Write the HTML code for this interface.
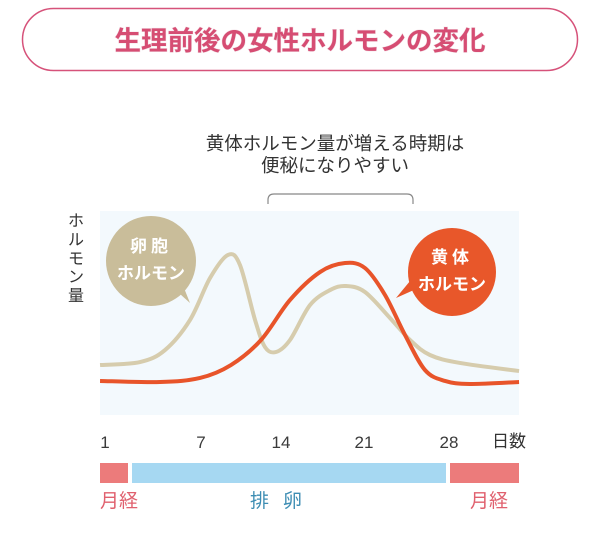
<!DOCTYPE html>
<html><head><meta charset="utf-8">
<style>
body{margin:0;background:#fff;width:600px;height:544px;overflow:hidden;font-family:"Liberation Sans","Noto Sans CJK JP",sans-serif}
svg text{font-family:"Liberation Sans","Noto Sans CJK JP",sans-serif}
</style></head>
<body>
<svg id="chart" width="600" height="544" viewBox="0 0 600 544">
  <rect x="22.5" y="8.5" width="555" height="62" rx="31" fill="#fff" stroke="#d6527a" stroke-width="1.5"/>
  <text x="300" y="50" text-anchor="middle" font-size="26.5" font-weight="bold" fill="#d64d73" style="paint-order:stroke" stroke="#f3e3e8" stroke-width="1">生理前後の女性ホルモンの変化</text>
  <text x="335" y="150" text-anchor="middle" font-size="18.5" fill="#333">黄体ホルモン量が増える時期は</text>
  <text x="335" y="172" text-anchor="middle" font-size="18.5" fill="#333">便秘になりやすい</text>
  <path d="M268 204 V200 Q268 194 274 194 H407 Q413 194 413 200 V204" fill="none" stroke="#888" stroke-width="1.2"/>
  <rect x="100" y="211" width="419" height="204" fill="#f3f9fd"/>
  <g font-size="16" fill="#333" text-anchor="middle">
    <text x="76" y="226">ホ</text><text x="76" y="245">ル</text><text x="76" y="264">モ</text><text x="76" y="282">ン</text><text x="76" y="301">量</text>
  </g>
  <g id="curves"></g>
  <g>
    <path d="M170 285 L190 303 L180 278 Z" fill="#c9bd9a"/>
    <circle cx="151" cy="261" r="45" fill="#c9bd9a"/>
    <text x="151" y="252" text-anchor="middle" font-size="17" font-weight="bold" fill="#fff" letter-spacing="4">卵胞</text>
    <text x="151" y="279" text-anchor="middle" font-size="17" font-weight="bold" fill="#fff">ホルモン</text>
  </g>
  <g>
    <path d="M425 285 L396 298 L415 275 Z" fill="#e8572a"/>
    <circle cx="452" cy="272" r="44" fill="#e8572a"/>
    <text x="452" y="263" text-anchor="middle" font-size="17" font-weight="bold" fill="#fff" letter-spacing="4">黄体</text>
    <text x="452" y="290" text-anchor="middle" font-size="17" font-weight="bold" fill="#fff">ホルモン</text>
  </g>
  <g id="ticks" font-size="17" fill="#3a3a3a" text-anchor="middle"></g>
  <text x="509" y="447" text-anchor="middle" font-size="17" fill="#333">日数</text>
  <rect x="100" y="463" width="28" height="20" fill="#ec7b7b"/>
  <rect x="132" y="463" width="314" height="20" fill="#a6d8f2"/>
  <rect x="450" y="463" width="69" height="20" fill="#ec7b7b"/>
  <text x="119" y="507" text-anchor="middle" font-size="19" fill="#e0606e">月経</text>
  <text x="283" y="507" text-anchor="middle" font-size="19" fill="#3d8db3" letter-spacing="14">排卵</text>
  <text x="489" y="507" text-anchor="middle" font-size="19" fill="#e0606e">月経</text>
</svg>
<script>
const tickDays = [1, 7, 14, 21, 28];
const tickLabels = ["1", "7", "14", "21", "28"];
const estrogenDays = [0.69, 3.19, 4.75, 6.31, 7.79, 9.36, 10.41, 11.73, 12.6, 13.56, 14.76, 16.45, 18.14, 19.48, 21.08, 23.14, 24.79, 26.43, 28.9, 33.77];
const estrogenValues = [23.3, 25.3, 33.3, 53.3, 81.3, 96.7, 90, 53.3, 35.3, 32, 40, 63.3, 73.3, 76, 72, 54.7, 40, 30, 24.7, 19.3];
const progesteroneDays = [0.69, 4.44, 6.94, 9.62, 12.25, 14.76, 17.29, 19.4, 21.08, 22.73, 24.38, 26.02, 27.67, 29.72, 33.77];
const progesteroneValues = [12.7, 12, 14.7, 23.3, 40, 66.7, 85.3, 91.3, 88, 70, 43.3, 20, 12.7, 10.7, 12];

function xScale(d){
  const k=[[1,105],[7,201],[14,281],[21,364],[28,449]];
  if(d<=7) return 105+(d-1)*16;
  for(let i=1;i<k.length-1;i++){ if(d<=k[i+1][0]) return k[i][1]+(d-k[i][0])*(k[i+1][1]-k[i][1])/(k[i+1][0]-k[i][0]); }
  return 449+(d-28)*12.14;
}
function yScale(v){ return 400 - v*1.5; }
function smoothPath(xs, ys){
  const p = xs.map((d,i)=>[xScale(d), yScale(ys[i])]);
  let s = `M${p[0][0]},${p[0][1]}`;
  for(let i=0;i<p.length-1;i++){
    const p0=p[i-1]||p[i], p1=p[i], p2=p[i+1], p3=p[i+2]||p2;
    const c1=[p1[0]+(p2[0]-p0[0])/6, p1[1]+(p2[1]-p0[1])/6];
    const c2=[p2[0]-(p3[0]-p1[0])/6, p2[1]-(p3[1]-p1[1])/6];
    s+=` C${c1[0]},${c1[1]} ${c2[0]},${c2[1]} ${p2[0]},${p2[1]}`;
  }
  return s;
}
const NS="http://www.w3.org/2000/svg";
const g=document.getElementById('curves');
const e=document.createElementNS(NS,'path');
e.setAttribute('d',smoothPath(estrogenDays,estrogenValues));
e.setAttribute('fill','none');e.setAttribute('stroke','#d6ccad');e.setAttribute('stroke-width','4');


g.appendChild(e);
const pg=document.createElementNS(NS,'path');
pg.setAttribute('d',smoothPath(progesteroneDays,progesteroneValues));
pg.setAttribute('fill','none');pg.setAttribute('stroke','#e8542a');pg.setAttribute('stroke-width','4');


g.appendChild(pg);
const t=document.getElementById('ticks');
tickDays.forEach((d,i)=>{
  const tx=document.createElementNS(NS,'text');
  tx.setAttribute('x',xScale(d));tx.setAttribute('y',448);
  tx.textContent=tickLabels[i];
  
  
  t.appendChild(tx);
});
</script>
</body></html>
